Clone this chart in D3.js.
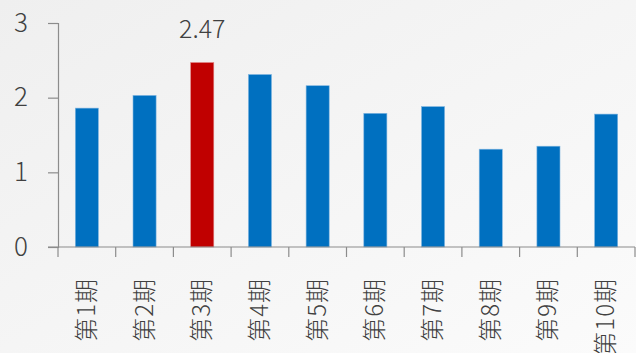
<!DOCTYPE html>
<html>
<head>
<meta charset="utf-8">
<script src="https://cdn.jsdelivr.net/npm/d3@7"></script>
<style>
  html, body { margin: 0; padding: 0; overflow: hidden; }
  svg { display: block; }
  .tick text { font-family: "Noto Sans CJK SC", "Open Sans", sans-serif; font-weight: 300; }
</style>
</head>
<body>
<div id="wrapper"></div>
<script>
// data
const periods = ["第1期", "第2期", "第3期", "第4期", "第5期", "第6期", "第7期", "第8期", "第9期", "第10期"];
const values = [1.86, 2.03, 2.47, 2.31, 2.16, 1.79, 1.88, 1.31, 1.35, 1.78];
const yTicks = [0, 1, 2, 3];
const highlight = "第3期";

let wSvg = 636;
let hSvg = 353;

let padLeft = 58;
let padRight = 635;
let padTop = 23;
let padBottom = 247;

let svg = d3.select("#wrapper")
    .append("svg")
    .attr("width", wSvg)
    .attr("height", hSvg);

// soft gray background
let grad = svg.append("defs").append("linearGradient")
    .attr("id", "bg")
    .attr("x1", "0%").attr("y1", "0%")
    .attr("x2", "100%").attr("y2", "100%");
grad.append("stop").attr("offset", "0%").attr("stop-color", "#efefef");
grad.append("stop").attr("offset", "100%").attr("stop-color", "#fbfbfb");

svg.append("rect")
    .attr("width", wSvg)
    .attr("height", hSvg)
    .attr("fill", "url(#bg)");

let xScale = d3.scaleBand()
    .domain(periods)
    .range([padLeft, padRight])
    .paddingInner(0.6)
    .paddingOuter(0.3);

let yScale = d3.scaleLinear()
    .domain([0, 3])
    .range([padBottom, padTop]);

// bars
svg.selectAll(".bar")
    .data(periods)
    .enter()
    .append("rect")
    .attr("class", "bar")
    .attr("x", d => xScale(d))
    .attr("width", xScale.bandwidth())
    .attr("y", (d, i) => yScale(values[i]))
    .attr("height", (d, i) => padBottom - yScale(values[i]))
    .attr("fill", d => d === highlight ? "#c00000" : "#0070c0")
    .attr("stroke", d => d === highlight ? "#e08080" : "#7fb5e0")
    .attr("stroke-width", 0.6);

// value label over the highlighted bar
let hi = periods.indexOf(highlight);
svg.append("text")
    .attr("x", xScale(highlight) + xScale.bandwidth() / 2)
    .attr("y", yScale(values[hi]) - 25)
    .attr("text-anchor", "middle")
    .attr("font-family", "Noto Sans CJK SC, sans-serif")
    .attr("font-weight", 300)
    .attr("font-size", 25)
    .attr("fill", "#404040")
    .text(values[hi].toFixed(2));

// y axis
let yAxis = svg.append("g")
    .attr("transform", `translate(${padLeft},0)`)
    .call(d3.axisLeft(yScale).tickValues(yTicks).tickFormat(d3.format("d")).tickSize(10).tickPadding(20));
yAxis.select(".domain").attr("stroke", "#8c8c8c").attr("stroke-width", 1.2);
yAxis.selectAll(".tick line").attr("stroke", "#8c8c8c").attr("stroke-width", 1.2);
yAxis.selectAll(".tick text")
    .attr("font-size", 26)
    .attr("fill", "#404040");

// x axis line and band boundary ticks
let xAxis = svg.append("g");
xAxis.append("line")
    .attr("x1", padLeft - 10)
    .attr("x2", padRight)
    .attr("y1", padBottom)
    .attr("y2", padBottom)
    .attr("stroke", "#8c8c8c")
    .attr("stroke-width", 1.2);

let bounds = d3.range(periods.length + 1).map(i => padLeft + i * (padRight - padLeft) / periods.length);
xAxis.selectAll(".xt")
    .data(bounds)
    .enter()
    .append("line")
    .attr("x1", d => d)
    .attr("x2", d => d)
    .attr("y1", padBottom)
    .attr("y2", padBottom + 10)
    .attr("stroke", "#8c8c8c")
    .attr("stroke-width", 1.2);

// rotated category labels
xAxis.selectAll(".xl")
    .data(periods)
    .enter()
    .append("text")
    .attr("transform", d => `translate(${xScale(d) + xScale.bandwidth() / 2 + 8},${padBottom + 31}) rotate(-90)`)
    .attr("text-anchor", "end")
    .attr("font-family", "Noto Sans CJK SC, sans-serif")
    .attr("font-weight", 300)
    .attr("font-size", 24)
    .attr("letter-spacing", 1)
    .attr("fill", "#404040")
    .text(d => d);
</script>
</body>
</html>
